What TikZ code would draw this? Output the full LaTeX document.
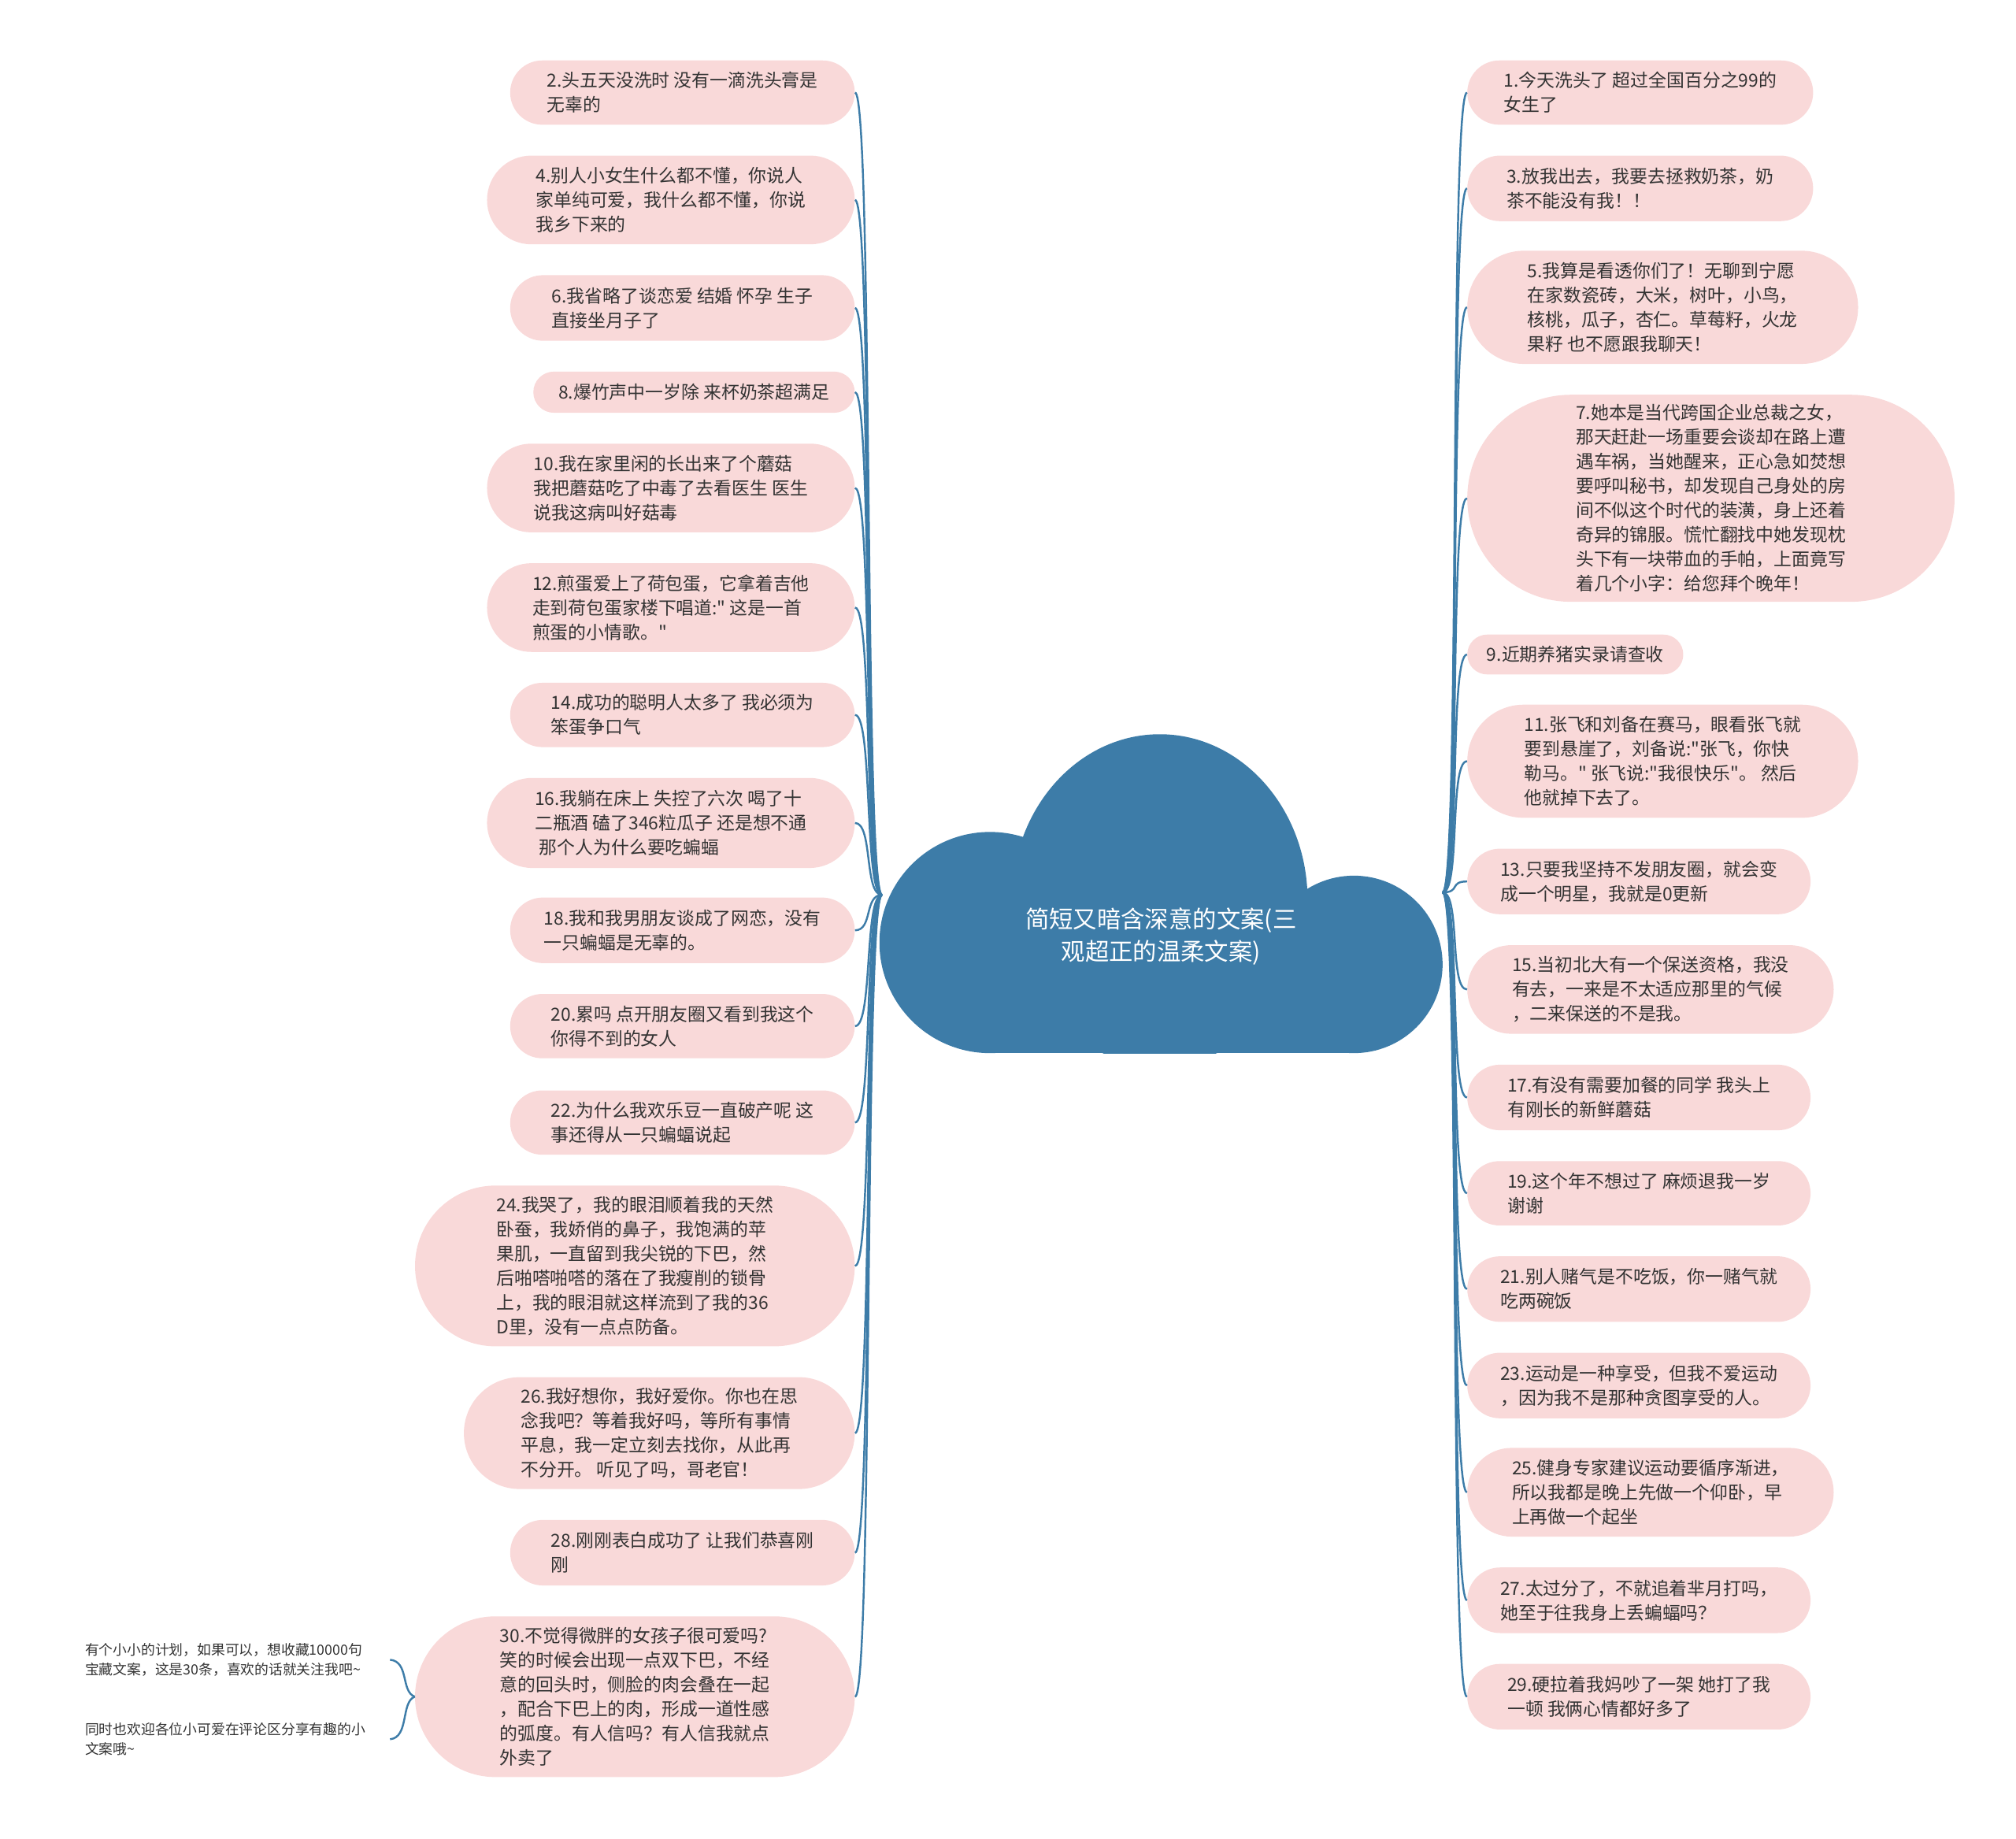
\documentclass[tikz,border=0pt]{standalone}
\usepackage{fontspec}
\setmainfont{Noto Sans CJK SC}[Ligatures=TeXOff]
\usepackage{xcolor}
\usepackage{tikz}
\usetikzlibrary{shapes.misc, calc}

\definecolor{mapblue}{HTML}{3D7CA8}
\definecolor{cardpink}{HTML}{F9D9D9}
\definecolor{inkgray}{HTML}{333333}

\begin{document}
\begin{tikzpicture}[x=1pt, y=-1pt,
        card/.style={rounded rectangle, fill=cardpink, text=inkgray, align=left, inner xsep=0pt, inner ysep=0pt, font={\fontsize{14pt}{19pt}\selectfont}},
        lcard/.style={card, anchor=east},
        rcard/.style={card, anchor=west},
        remark/.style={text width=237pt, align=left, inner sep=0pt, anchor=west, text=inkgray, font={\fontsize{10.9pt}{15.5pt}\selectfont}},
        link/.style={draw=mapblue, line width=1.5pt}
    ]
        \useasboundingbox (0,0) rectangle (1568,1430);

        % Central cloud
        \begin{scope}
            \clip (600,560) rectangle (1200,819);
            \fill[mapblue] (770,733) circle (86pt);
            \fill[mapblue] (902,700) ellipse [x radius=115pt, y radius=129pt];
            \fill[mapblue] (1053,750) circle (69pt);
            \fill[mapblue] (768,733) rectangle (1055,819);
        \end{scope}
        \node (title) [text=white, align=center, font={\fontsize{18.6pt}{25pt}\selectfont}] at (903,728.5) {简短又暗含深意的文案(三\\观超正的温柔文案)};
        \coordinate (lhub) at (686,696);
        \coordinate (rhub) at (1122,694);

        % Left column (even numbers)
        \node (l2) [lcard, minimum width=268pt, minimum height=50pt] at (665,72) {2.头五天没洗时 没有一滴洗头膏是\\无辜的};
        \node (l4) [lcard, minimum width=286pt, minimum height=69pt] at (665,155.5) {4.别人小女生什么都不懂，你说人\\家单纯可爱，我什么都不懂，你说\\我乡下来的};
        \node (l6) [lcard, minimum width=268pt, minimum height=51pt] at (665,239.5) {6.我省略了谈恋爱 结婚 怀孕 生子\\直接坐月子了};
        \node (l8) [lcard, minimum width=250pt, minimum height=32pt] at (665,305) {8.爆竹声中一岁除 来杯奶茶超满足};
        \node (l10) [lcard, minimum width=286pt, minimum height=69pt] at (665,379.5) {10.我在家里闲的长出来了个蘑菇\\我把蘑菇吃了中毒了去看医生 医生\\说我这病叫好菇毒};
        \node (l12) [lcard, minimum width=286pt, minimum height=69pt] at (665,472.5) {12.煎蛋爱上了荷包蛋，它拿着吉他\\走到荷包蛋家楼下唱道:" 这是一首\\煎蛋的小情歌。"};
        \node (l14) [lcard, minimum width=268pt, minimum height=50pt] at (665,556) {14.成功的聪明人太多了 我必须为\\笨蛋争口气};
        \node (l16) [lcard, minimum width=286pt, minimum height=70pt] at (665,640) {16.我躺在床上 失控了六次 喝了十\\二瓶酒 磕了346粒瓜子 还是想不通\\\hspace*{0.25em}那个人为什么要吃蝙蝠};
        \node (l18) [lcard, minimum width=268pt, minimum height=51pt] at (665,723.5) {18.我和我男朋友谈成了网恋，没有\\一只蝙蝠是无辜的。};
        \node (l20) [lcard, minimum width=268pt, minimum height=50pt] at (665,798) {20.累吗 点开朋友圈又看到我这个\\你得不到的女人};
        \node (l22) [lcard, minimum width=268pt, minimum height=50pt] at (665,873) {22.为什么我欢乐豆一直破产呢 这\\事还得从一只蝙蝠说起};
        \node (l24) [lcard, minimum width=342pt, minimum height=125pt] at (665,984.5) {24.我哭了，我的眼泪顺着我的天然\\卧蚕，我娇俏的鼻子，我饱满的苹\\果肌，一直留到我尖锐的下巴，然\\后啪嗒啪嗒的落在了我瘦削的锁骨\\上，我的眼泪就这样流到了我的36\\D里，没有一点点防备。};
        \node (l26) [lcard, minimum width=304pt, minimum height=87pt] at (665,1114.5) {26.我好想你，我好爱你。你也在思\\念我吧？等着我好吗，等所有事情\\平息，我一定立刻去找你，从此再\\不分开。 听见了吗，哥老官！};
        \node (l28) [lcard, minimum width=268pt, minimum height=51pt] at (665,1207.5) {28.刚刚表白成功了 让我们恭喜刚\\刚};
        \node (l30) [lcard, minimum width=342pt, minimum height=125pt] at (665,1319.5) {30.不觉得微胖的女孩子很可爱吗?\\笑的时候会出现一点双下巴，不经\\意的回头时，侧脸的肉会叠在一起\\，配合下巴上的肉，形成一道性感\\的弧度。有人信吗？有人信我就点\\外卖了};

        % Remarks beside 30
        \node (n1) [remark] at (66,1290.75) {有个小小的计划，如果可以，想收藏10000句\\宝藏文案，这是30条，喜欢的话就关注我吧\textasciitilde};
        \node (n2) [remark] at (66,1352.6) {同时也欢迎各位小可爱在评论区分享有趣的小\\文案哦\textasciitilde};

        % Right column (odd numbers)
        \node (r1) [rcard, minimum width=269pt, minimum height=50pt] at (1141,72) {1.今天洗头了 超过全国百分之99的\\女生了};
        \node (r3) [rcard, minimum width=269pt, minimum height=51pt] at (1141,146.5) {3.放我出去，我要去拯救奶茶，奶\\茶不能没有我！！};
        \node (r5) [rcard, minimum width=304pt, minimum height=88pt] at (1141,239) {5.我算是看透你们了！无聊到宁愿\\在家数瓷砖，大米，树叶，小鸟，\\核桃，瓜子，杏仁。草莓籽，火龙\\果籽 也不愿跟我聊天！};
        \node (r7) [rcard, minimum width=379pt, minimum height=161pt] at (1141,387.5) {7.她本是当代跨国企业总裁之女，\\那天赶赴一场重要会谈却在路上遭\\遇车祸，当她醒来，正心急如焚想\\要呼叫秘书，却发现自己身处的房\\间不似这个时代的装潢，身上还着\\奇异的锦服。慌忙翻找中她发现枕\\头下有一块带血的手帕，上面竟写\\着几个小字：给您拜个晚年！};
        \node (r9) [rcard, minimum width=168pt, minimum height=31pt] at (1141,509) {9.近期养猪实录请查收};
        \node (r11) [rcard, minimum width=304pt, minimum height=88pt] at (1141,592) {11.张飞和刘备在赛马，眼看张飞就\\要到悬崖了，刘备说:"张飞，你快\\勒马。" 张飞说:"我很快乐"。 然后\\他就掉下去了。};
        \node (r13) [rcard, minimum width=267pt, minimum height=51pt] at (1141,685.5) {13.只要我坚持不发朋友圈，就会变\\成一个明星，我就是0更新};
        \node (r15) [rcard, minimum width=285pt, minimum height=69pt] at (1141,769.5) {15.当初北大有一个保送资格，我没\\有去，一来是不太适应那里的气候\\，二来保送的不是我。};
        \node (r17) [rcard, minimum width=267pt, minimum height=51pt] at (1141,853.5) {17.有没有需要加餐的同学 我头上\\有刚长的新鲜蘑菇};
        \node (r19) [rcard, minimum width=267pt, minimum height=50pt] at (1141,928) {19.这个年不想过了 麻烦退我一岁\\谢谢};
        \node (r21) [rcard, minimum width=267pt, minimum height=51pt] at (1141,1002.5) {21.别人赌气是不吃饭，你一赌气就\\吃两碗饭};
        \node (r23) [rcard, minimum width=267pt, minimum height=51pt] at (1141,1077.5) {23.运动是一种享受，但我不爱运动\\，因为我不是那种贪图享受的人。};
        \node (r25) [rcard, minimum width=285pt, minimum height=69pt] at (1141,1160.5) {25.健身专家建议运动要循序渐进，\\所以我都是晚上先做一个仰卧，早\\上再做一个起坐};
        \node (r27) [rcard, minimum width=267pt, minimum height=51pt] at (1141,1244.5) {27.太过分了，不就追着芈月打吗，\\她至于往我身上丢蝙蝠吗？};
        \node (r29) [rcard, minimum width=267pt, minimum height=51pt] at (1141,1319.5) {29.硬拉着我妈吵了一架 她打了我\\一顿 我俩心情都好多了};

        % Links
        \foreach \n in {l2,l4,l6,l8,l10,l12,l14,l16,l18,l20,l22,l24,l26,l28,l30}
            \draw [link] (lhub) .. controls +(-14,0) and +(14,0) .. (\n.east);
        \foreach \n in {r1,r3,r5,r7,r9,r11,r13,r15,r17,r19,r21,r23,r25,r27,r29}
            \draw [link] (rhub) .. controls +(14,0) and +(-14,0) .. (\n.west);
        \draw [link] (l30.west) .. controls +(-11,-4) and +(15,1.5) .. (n1.east);
        \draw [link] (l30.west) .. controls +(-11,4) and +(15,-1.5) .. (n2.east);
    \end{tikzpicture}
\end{document}
